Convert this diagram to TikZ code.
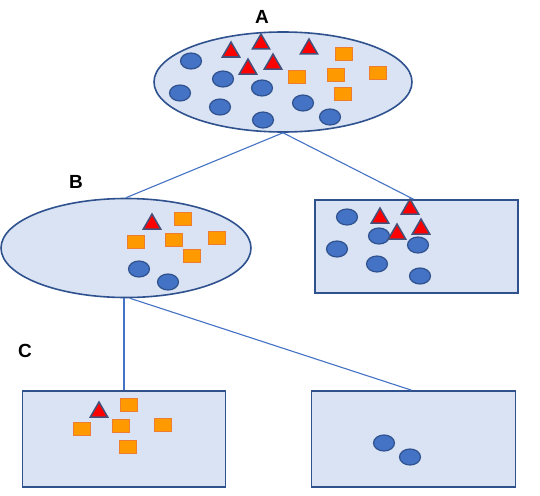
\documentclass[tikz,border=0pt]{standalone}
\usepackage{fontspec}
\setmainfont{Liberation Sans}
\usetikzlibrary{shapes.geometric,calc}
\definecolor{panelfill}{HTML}{DAE3F3}
\definecolor{panelline}{HTML}{2F528F}
\definecolor{dotfill}{HTML}{4472C4}
\definecolor{dotline}{HTML}{2F528F}
\definecolor{sqfill}{HTML}{FF9900}
\definecolor{sqline}{HTML}{ED7D31}
\definecolor{trifill}{HTML}{FF0000}
\definecolor{triline}{HTML}{44507A}
\definecolor{linkline}{HTML}{4472C4}
\tikzset{
  container/.style={draw=panelline, fill=panelfill, line width=1.6pt, inner sep=0pt},
  oval/.style={container, ellipse},
  panel/.style={container, rectangle},
  dot/.style={ellipse, draw=dotline, fill=dotfill, line width=1.2pt, minimum width=21pt, minimum height=16pt, inner sep=0pt},
  sq/.style={rectangle, draw=sqline, fill=sqfill, line width=1pt, minimum width=17pt, minimum height=13pt, inner sep=0pt},
  tri/.style={regular polygon, regular polygon sides=3, draw=triline, fill=trifill, line width=1.5pt, minimum size=20pt, inner sep=0pt},
  link/.style={draw=linkline, line width=1.1pt},
  lbl/.style={font=\bfseries\fontsize{19}{22}\selectfont, text=black, inner sep=0pt}
}
\begin{document}
\begin{tikzpicture}[x=1pt,y=-1pt]
\useasboundingbox (0,0) rectangle (540,495);
\fill[white] (0,0) rectangle (540,495);

% containers
\node[oval, minimum width=258pt, minimum height=100pt] (A) at (283,82) {};
\node[oval, minimum width=250pt, minimum height=99pt] (B) at (126,248) {};
\node[panel, minimum width=203pt, minimum height=93pt] (R1) at (416.5,246.5) {};
\node[panel, minimum width=203pt, minimum height=96pt] (C1) at (124,439) {};
\node[panel, minimum width=204pt, minimum height=96pt] (C2) at (413.5,439) {};

% labels
\node[lbl] (la) at (262,17) {A};
\node[lbl] (lb) at (76,182) {B};
\node[lbl] (lc) at (25,351) {C};

% connectors
\draw[link] (A.south) -- (B.north);
\draw[link] (A.south) -- ([xshift=-3pt]R1.north);
\draw[link] ([xshift=-2pt]B.south) -- ([xshift=-2pt]B.south |- C1.north);
\draw[link] ([xshift=4pt]B.south) -- ([xshift=-2pt]C2.north);

% A contents
\node[dot] (a1) at (191,61) {};
\node[dot] (a2) at (223,79) {};
\node[dot] (a3) at (180,93) {};
\node[dot] (a4) at (262,88) {};
\node[dot] (a5) at (220,107) {};
\node[dot] (a6) at (263,120) {};
\node[dot] (a7) at (303,103) {};
\node[dot] (a8) at (330,117) {};
\node[sq] (a9) at (344,54) {};
\node[sq] (a10) at (297,77) {};
\node[sq] (a11) at (336,75) {};
\node[sq] (a12) at (378,73) {};
\node[sq] (a13) at (343,94) {};
\node[tri] (a14) at (231,52) {};
\node[tri] (a15) at (261,44) {};
\node[tri] (a16) at (309,49) {};
\node[tri] (a17) at (248,69) {};
\node[tri] (a18) at (273,64) {};

% B contents
\node[sq] (b1) at (183,219) {};
\node[sq] (b2) at (136,242) {};
\node[sq] (b3) at (174,240) {};
\node[sq] (b4) at (217,238) {};
\node[sq] (b5) at (192,256) {};
\node[dot] (b6) at (139,269) {};
\node[dot] (b7) at (168,282) {};
\node[tri] (b8) at (152,224) {};

% R1 contents
\node[dot] (r1) at (347,217) {};
\node[dot] (r2) at (379,236) {};
\node[dot] (r3) at (337,249) {};
\node[dot] (r4) at (418,245) {};
\node[dot] (r5) at (377,264) {};
\node[dot] (r6) at (420,276) {};
\node[tri] (r7) at (380,218) {};
\node[tri] (r8) at (410,209) {};
\node[tri] (r9) at (397,234) {};
\node[tri] (r10) at (421,229) {};

% C1 contents
\node[sq] (c1) at (129,405) {};
\node[sq] (c2) at (82,429) {};
\node[sq] (c3) at (121,426) {};
\node[sq] (c4) at (163,425) {};
\node[sq] (c5) at (128,447) {};
\node[tri] (c6) at (99,412) {};

% C2 contents
\node[dot] (d1) at (384,443) {};
\node[dot] (d2) at (410,457) {};
\end{tikzpicture}
\end{document}
